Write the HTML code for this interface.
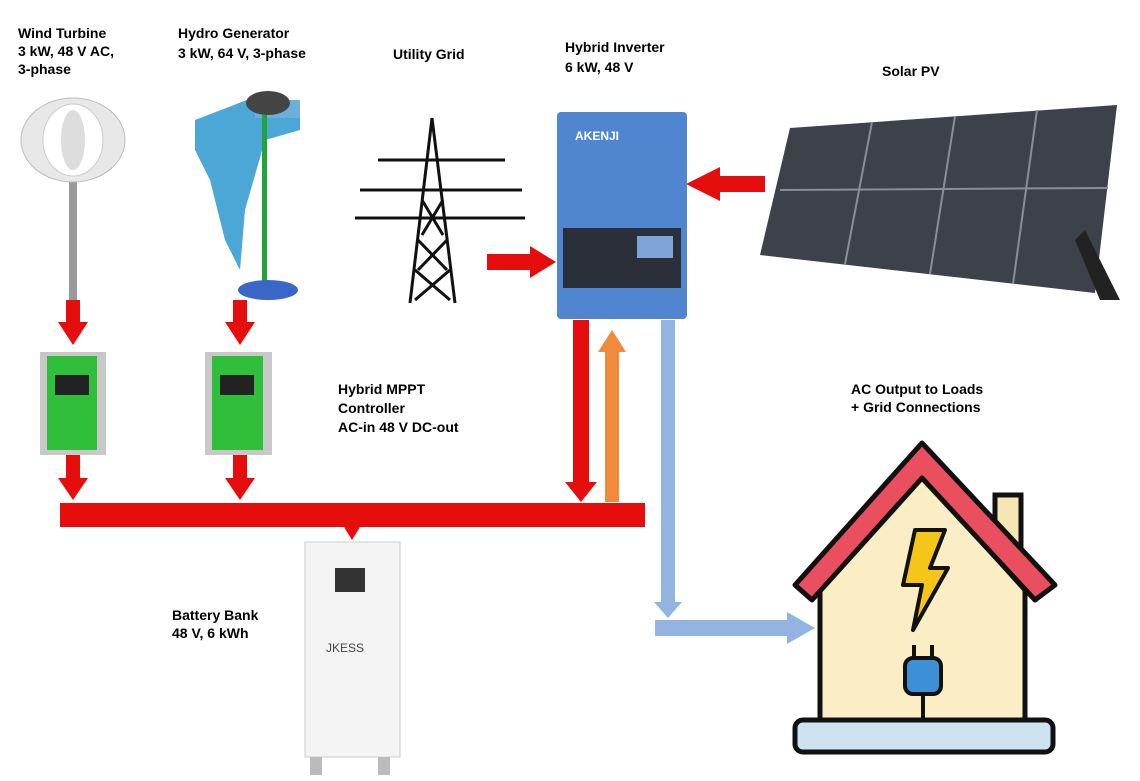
<!DOCTYPE html>
<html><head><meta charset="utf-8"><style>
body{margin:0;background:#fff;}
svg{display:block;font-family:"Liberation Sans",Arial,sans-serif;font-weight:bold;font-size:14px;}
</style></head><body>
<svg width="1140" height="781" viewBox="0 0 1140 781" xmlns="http://www.w3.org/2000/svg">
<rect width="1140" height="781" fill="#fff"/>
<!-- labels -->
<text x="18" y="38">Wind Turbine</text><text x="18" y="56">3 kW, 48 V AC,</text><text x="18" y="74">3-phase</text>
<text x="178" y="38">Hydro Generator</text><text x="178" y="58">3 kW, 64 V, 3-phase</text>
<text x="393" y="59">Utility Grid</text>
<text x="565" y="52">Hybrid Inverter</text><text x="565" y="72">6 kW, 48 V</text>
<text x="882" y="76">Solar PV</text>
<text x="338" y="394">Hybrid MPPT</text><text x="338" y="413">Controller</text><text x="338" y="432">AC-in 48 V DC-out</text>
<text x="851" y="394">AC Output to Loads</text><text x="851" y="412">+ Grid Connections</text>
<text x="172" y="620">Battery Bank</text><text x="172" y="638">48 V, 6 kWh</text>

<!-- wind turbine -->
<rect x="69" y="170" width="8" height="130" fill="#9a9a9a"/>
<ellipse cx="73" cy="140" rx="52" ry="42" fill="#e8e8e8" stroke="#bbb"/>
<ellipse cx="73" cy="140" rx="30" ry="36" fill="#fff" stroke="#ccc"/>
<ellipse cx="73" cy="140" rx="12" ry="30" fill="#ddd"/>
<!-- hydro -->
<polygon points="195,120 260,95 300,110 300,130 265,140 245,210 240,270 225,240 210,180 195,150" fill="#4aa7d6"/>
<rect x="255" y="100" width="45" height="18" fill="#6ab0d8"/>
<rect x="262" y="115" width="5" height="170" fill="#22a33a"/>
<ellipse cx="268" cy="290" rx="30" ry="10" fill="#3a66c7"/>
<ellipse cx="268" cy="103" rx="22" ry="12" fill="#444"/>
<!-- pylon -->
<g stroke="#111" stroke-width="3" fill="none">
<polyline points="410,303 432,118 455,303"/>
<line x1="360" y1="190" x2="522" y2="190"/><line x1="378" y1="160" x2="505" y2="160"/><line x1="355" y1="218" x2="525" y2="218"/>
<path d="M418,240 L447,270 M447,240 L418,270 M415,270 L450,300 M450,270 L415,300 M422,200 L443,235 M443,200 L422,235"/>
</g>
<!-- inverter -->
<rect x="557" y="112" width="130" height="207" rx="4" fill="#4f86cf"/>
<rect x="563" y="228" width="118" height="60" fill="#2a2f3a"/>
<rect x="637" y="236" width="36" height="22" fill="#7ea4d8"/>
<text x="575" y="140" fill="#fff" font-size="12">AKENJI</text>
<!-- solar -->
<polygon points="790,128 1117,105 1095,293 760,255" fill="#3c414a"/>
<g stroke="#8a8e96" stroke-width="2"><line x1="872" y1="122" x2="845" y2="264"/><line x1="955" y1="116" x2="930" y2="274"/><line x1="1037" y1="110" x2="1013" y2="284"/><line x1="780" y1="190" x2="1108" y2="188"/></g>
<polygon points="1085,230 1120,300 1100,300 1075,240" fill="#222"/>
<!-- red arrows -->
<g fill="#e60d0d">
<rect x="718" y="176" width="47" height="16"/><polygon points="686,184 720,167 720,201"/>
<rect x="487" y="254" width="45" height="16"/><polygon points="556,262 530,246 530,278"/>
<rect x="66" y="300" width="14" height="25"/><polygon points="58,322 88,322 73,345"/>
<rect x="233" y="300" width="14" height="25"/><polygon points="225,322 255,322 240,345"/>
<rect x="66" y="455" width="14" height="25"/><polygon points="58,478 88,478 73,500"/>
<rect x="233" y="455" width="14" height="25"/><polygon points="225,478 255,478 240,500"/>
<rect x="60" y="503" width="585" height="24"/>
<polygon points="344,527 360,527 352,540"/>
<rect x="573" y="320" width="16" height="165"/><polygon points="565,482 597,482 581,502"/>
</g>
<rect x="605" y="350" width="14" height="152" fill="#f08a3c"/><polygon points="598,352 626,352 612,330" fill="#f08a3c"/>
<!-- blue -->
<g fill="#93b3e0"><rect x="661" y="320" width="14" height="285"/><polygon points="654,602 682,602 668,618"/>
<rect x="655" y="620" width="135" height="16"/><polygon points="787,612 787,644 815,628"/></g>
<!-- controllers -->
<g><rect x="40" y="352" width="66" height="103" fill="#c8c8c8"/><rect x="47" y="356" width="50" height="94" fill="#2fbf3a"/><rect x="55" y="375" width="34" height="20" fill="#222"/>
<rect x="205" y="352" width="67" height="103" fill="#c8c8c8"/><rect x="212" y="356" width="51" height="94" fill="#2fbf3a"/><rect x="220" y="375" width="34" height="20" fill="#222"/></g>
<!-- battery -->
<rect x="305" y="542" width="95" height="215" fill="#f4f4f4" stroke="#ccc"/>
<rect x="335" y="568" width="30" height="24" fill="#333"/>
<text x="326" y="652" font-size="12" fill="#444" font-weight="normal">JKESS</text>
<rect x="310" y="757" width="12" height="18" fill="#bbb"/><rect x="378" y="757" width="12" height="18" fill="#bbb"/>
<!-- house -->
<rect x="995" y="495" width="26" height="60" fill="#f6e6b3" stroke="#111" stroke-width="5"/>
<polygon points="820,590 922,475 1025,590 1025,720 820,720" fill="#fbeec4" stroke="#111" stroke-width="5"/>
<polygon points="795,585 922,443 1055,585 1035,600 922,478 812,600" fill="#ea4f5f" stroke="#111" stroke-width="5" stroke-linejoin="round"/>
<rect x="795" y="720" width="258" height="32" rx="8" fill="#cde3f0" stroke="#111" stroke-width="5"/>
<polygon points="915,530 945,530 930,568 948,568 913,630 922,585 903,585" fill="#f5c518" stroke="#111" stroke-width="4" stroke-linejoin="round"/>
<rect x="905" y="658" width="36" height="36" rx="8" fill="#3d8fd6" stroke="#111" stroke-width="4"/>
<line x1="914" y1="645" x2="914" y2="658" stroke="#111" stroke-width="4"/><line x1="932" y1="645" x2="932" y2="658" stroke="#111" stroke-width="4"/>
<line x1="923" y1="694" x2="923" y2="720" stroke="#111" stroke-width="4"/>
</svg>
</body></html>
